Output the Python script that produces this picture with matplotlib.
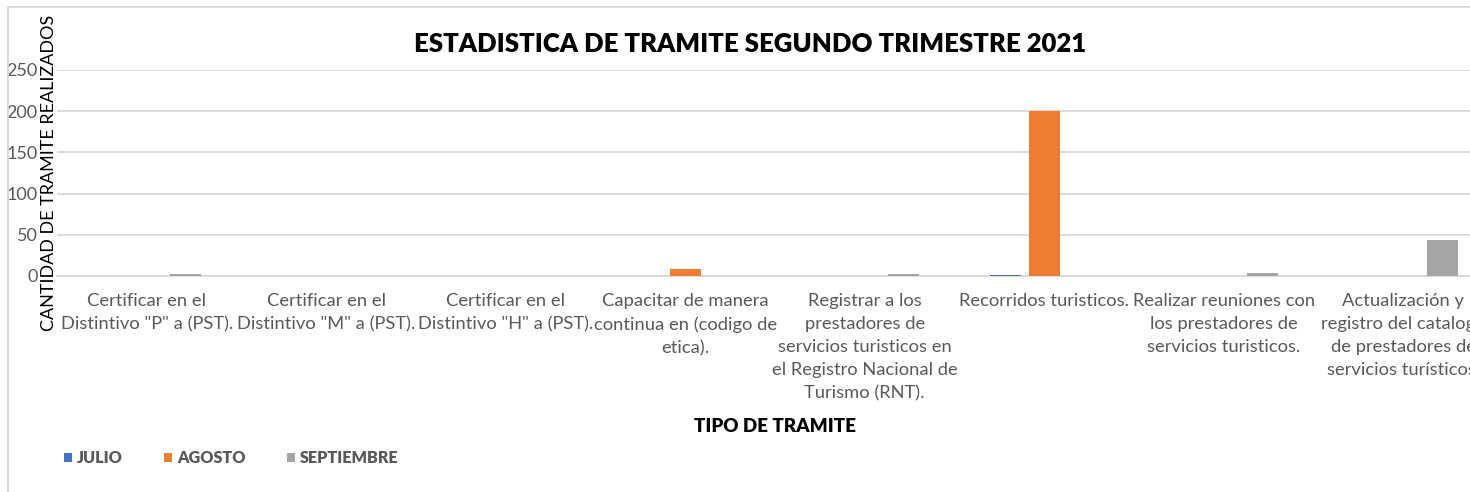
import matplotlib
matplotlib.use("Agg")
import matplotlib.pyplot as plt
import numpy as np
from matplotlib.patches import Patch, Rectangle

plt.rcParams['font.family'] = ['Lato', 'DejaVu Sans']

categorias = [
    'Certificar en el\nDistintivo "P" a (PST).',
    'Certificar en el\nDistintivo "M" a (PST).',
    'Certificar en el\nDistintivo "H" a (PST).',
    'Capacitar de manera\ncontinua en (codigo de\netica).',
    'Registrar a los\nprestadores de\nservicios turisticos en\nel Registro Nacional de\nTurismo (RNT).',
    'Recorridos turisticos.',
    'Realizar reuniones con\nlos prestadores de\nservicios turisticos.',
    'Actualización y\nregistro del catalogo\nde prestadores de\nservicios turísticos.',
]
julio = [0, 0, 0, 0, 0, 1, 0, 0]
agosto = [0, 0, 0, 8, 0, 200, 0, 0]
septiembre = [3, 0, 0, 0, 3, 0, 4, 44]
series = ['JULIO', 'AGOSTO', 'SEPTIEMBRE']
colores = ['#4472C4', '#ED7D31', '#A5A5A5']

gris = '#595959'
linea = '#D9D9D9'

fig = plt.figure(figsize=(14.7, 4.92), dpi=100)
ax = fig.add_axes([57 / 1470, 1 - 276 / 492, 1436 / 1470, 206 / 492])

x = np.arange(len(categorias))
paso = 0.217
ancho = 0.173
for i, (vals, col) in enumerate(zip([julio, agosto, septiembre], colores)):
    ax.bar(x + (i - 1) * paso, vals, ancho, color=col, zorder=3)

ax.set_xlim(-0.5, len(categorias) - 0.5)
ax.set_ylim(0, 250)
ax.set_yticks([0, 50, 100, 150, 200, 250])
ax.yaxis.grid(True, color=linea, linewidth=1.3, zorder=0)
for s in ['top', 'right', 'left']:
    ax.spines[s].set_visible(False)
ax.spines['bottom'].set_color(linea)
ax.spines['bottom'].set_linewidth(1.3)
ax.set_xticks(x)
ax.set_xticklabels(categorias, fontsize=13.2, color=gris, linespacing=1.55, va='top')
ax.tick_params(axis='x', length=0, pad=12)
ax.tick_params(axis='y', length=0, pad=14, labelsize=13, labelcolor=gris)

fig.text(750 / 1470, 1 - 44 / 492, 'ESTADISTICA DE TRAMITE SEGUNDO TRIMESTRE 2021',
         ha='center', va='center', fontsize=18.5, fontweight='heavy', color='black')
fig.text(49 / 1470, 1 - 173 / 492, 'CANTIDAD DE TRAMITE REALIZADOS', rotation=90,
         ha='center', va='center', fontsize=13, color='black')
fig.text(775 / 1470, 1 - 426 / 492, 'TIPO DE TRAMITE', ha='center', va='center',
         fontsize=13.5, fontweight='heavy', color='black')

handles = [Patch(facecolor=c, edgecolor='none') for c in colores]
leg = fig.legend(handles, series, loc='center left', bbox_to_anchor=(49 / 1470, 1 - 458 / 492),
                 ncol=3, frameon=False, handlelength=0.5, handleheight=0.5, handletextpad=0.3,
                 columnspacing=2.6, prop={'weight': 'heavy', 'size': 11.6})
for t in leg.get_texts():
    t.set_color(gris)

fig.patches.append(Rectangle((8 / 1470, -0.5), 2.0, 1.5 - 7 / 492, transform=fig.transFigure,
                             fill=False, edgecolor=linea, linewidth=1.3, zorder=0))

fig.savefig('out.png', dpi=100, facecolor='white')
